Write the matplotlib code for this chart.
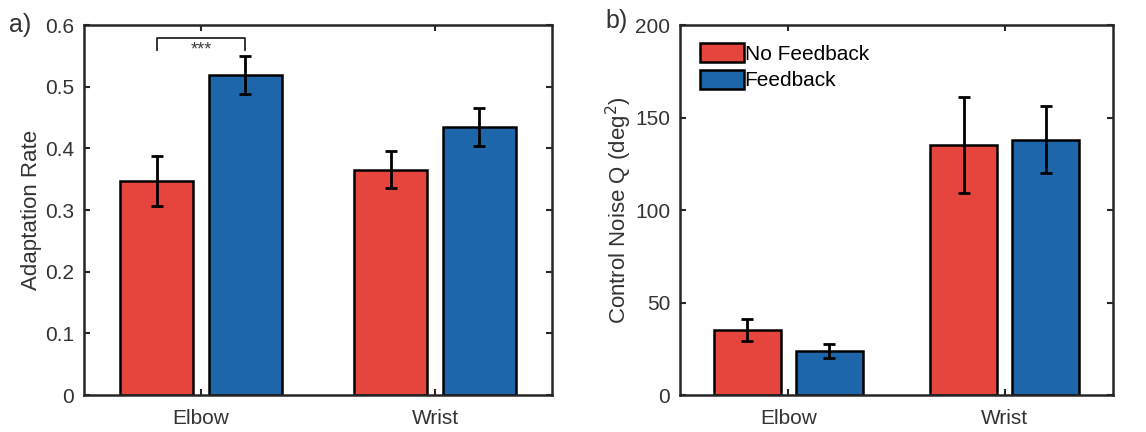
import matplotlib
matplotlib.use("Agg")
import matplotlib.pyplot as plt
import numpy as np

plt.rcParams['font.family'] = ['Liberation Sans', 'DejaVu Sans']

groups = ["Elbow", "Wrist"]
series = ["No Feedback", "Feedback"]
colors = ["#E5453D", "#1D66AA"]

rate_vals = [[0.347, 0.365], [0.519, 0.434]]
rate_err = [[0.040, 0.030], [0.031, 0.031]]

noise_vals = [[35.0, 135.0], [23.8, 138.0]]
noise_err = [[6.0, 26.0], [4.0, 18.0]]

fig = plt.figure(figsize=(11.46, 4.32), dpi=100)
axa = fig.add_axes([0.0733, 0.0856, 0.4084, 0.8565])
axb = fig.add_axes([0.5934, 0.0856, 0.3778, 0.8565])

x = np.arange(1, len(groups) + 1)
offsets = [-0.19, 0.19]
width = 0.31
spine_col = "#262626"
txt_col = "#333333"

def style(ax, ylim, yticks):
    ax.set_xlim(0.5, 2.5)
    ax.set_ylim(*ylim)
    ax.set_yticks(yticks)
    ax.set_xticks(x)
    ax.set_xticklabels(groups)
    ax.tick_params(direction='in', top=True, right=True, labelsize=15,
                   width=1.5, length=4, color=spine_col, labelcolor=txt_col, pad=7)
    ax.tick_params(axis='x', pad=10)
    for s in ax.spines.values():
        s.set_linewidth(1.8)
        s.set_color(spine_col)

def draw(ax, vals, errs):
    for i in range(len(series)):
        ax.bar(x + offsets[i], vals[i], width, color=colors[i], edgecolor='black',
               linewidth=1.8, label=series[i], zorder=2)
        ax.errorbar(x + offsets[i], vals[i], yerr=errs[i], fmt='none', ecolor='black',
                    elinewidth=2, capsize=4, capthick=2, zorder=3)

draw(axa, rate_vals, rate_err)
style(axa, (0, 0.6), np.round(np.arange(0, 0.61, 0.1), 1))
axa.set_ylabel("Adaptation Rate", fontsize=16, color=txt_col, labelpad=2)
axa.set_yticklabels(["0", "0.1", "0.2", "0.3", "0.4", "0.5", "0.6"])

# significance bracket
bx0, bx1, by, bleg = 1 + offsets[0], 1 + offsets[1], 0.579, 0.559
axa.plot([bx0, bx0, bx1, bx1], [bleg, by, by, bleg], color='#262626', lw=1.3, zorder=4)
axa.text(1.0, 0.573, "***", ha='center', va='top', fontsize=13, color='#404040')

draw(axb, noise_vals, noise_err)
style(axb, (0, 200), [0, 50, 100, 150, 200])
axb.set_ylabel("Control Noise Q (deg$^2$)", fontsize=16, color=txt_col, labelpad=1)
axb.legend(loc='upper left', frameon=False, fontsize=15, handlelength=2.1,
           handleheight=1.0, handletextpad=0.05, labelspacing=0.3,
           borderaxespad=0.3, bbox_to_anchor=(0.012, 0.99))

fig.text(0.008, 0.925, "a)", fontsize=18, color=txt_col)
fig.text(0.528, 0.935, "b)", fontsize=18, color=txt_col)

fig.savefig("out.png", dpi=100)
